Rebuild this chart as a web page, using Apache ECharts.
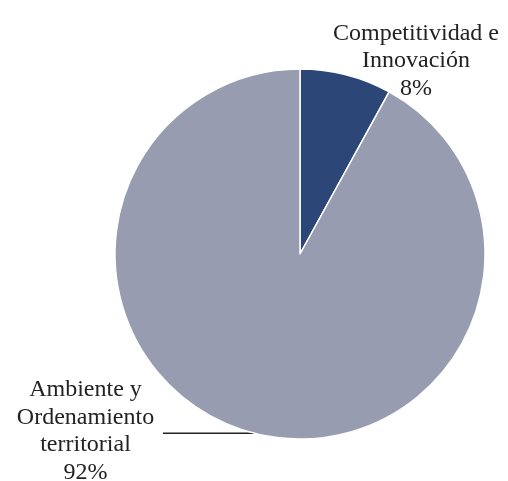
<!DOCTYPE html>
<html>
<head>
<meta charset="utf-8">
<style>
html,body{margin:0;padding:0;background:#fff;}
#main{width:508px;height:481px;}
</style>
<script src="https://cdn.jsdelivr.net/npm/echarts@6/dist/echarts.min.js"></script>
</head>
<body>
<div id="main"></div>
<script>
var categories = ['Competitividad e\nInnovación', 'Ambiente y\nOrdenamiento\nterritorial'];
var values = [8, 92];
var colors = ['#2b4677', '#979cb1'];

var chart = echarts.init(document.getElementById('main'));
var font = {fontFamily: '"Liberation Serif", "Times New Roman", serif', fontSize: 24, lineHeight: 27.5, color: '#222'};

var data = categories.map(function (c, i) {
  var item = {name: c, value: values[i], itemStyle: {color: colors[i]}};
  if (i === 0) {
    item.labelLine = {show: false, length: 0, length2: 0};
    item.label = {offset: [-21, -14]};
  } else {
    item.labelLine = {show: true, length: 0, length2: 91};
    item.label = {offset: [0, -2]};
  }
  return item;
});

chart.setOption({
  backgroundColor: '#fff',
  animation: false,
  series: [{
    type: 'pie',
    left: 0, top: 0, right: -200, bottom: -200,
    center: [300, 254],
    radius: 185,
    startAngle: 90,
    clockwise: true,
    avoidLabelOverlap: false,
    itemStyle: {borderColor: '#fff', borderWidth: 1.5},
    label: {
      show: true,
      position: 'outside',
      overflow: 'none',
      bleedMargin: 0,
      distanceToLabelLine: 5,
      formatter: function (p) {
        var key = p.dataIndex === 0 ? 'a' : 'b';
        var lines = p.name.split('\n');
        lines.push(p.value + '%');
        return lines.map(function (l) { return '{' + key + '|' + l + '}'; }).join('\n');
      },
      rich: {
        a: Object.assign({width: 172, align: 'center'}, font),
        b: Object.assign({width: 145, align: 'center'}, font)
      }
    },
    labelLine: {lineStyle: {color: '#222', width: 1.5}},
    data: data
  }]
});
</script>
</body>
</html>
